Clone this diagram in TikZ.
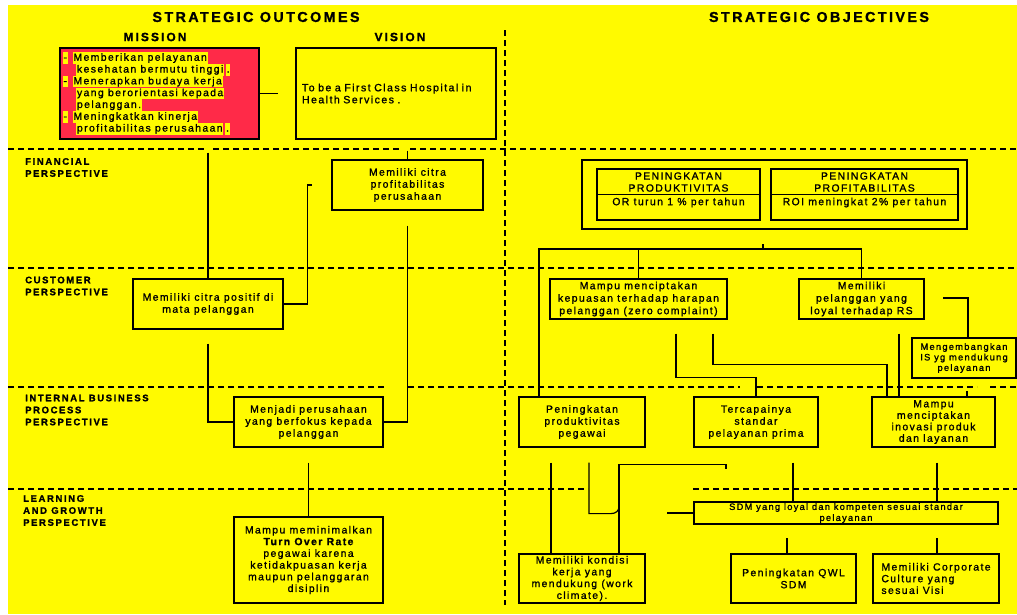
\documentclass[tikz,border=0pt]{standalone}
\usepackage{fontspec}
\setmainfont{Liberation Sans}[LetterSpace=13.5, FakeBold=1.2]
\definecolor{bgyellow}{RGB}{255,250,0}
\definecolor{mred}{RGB}{255,42,72}
\newcommand{\wide}{\addfontfeatures{LetterSpace=17}}
\begin{document}
\begin{tikzpicture}[x=1pt,y=-1pt,
  box/.style={draw, line width=1.2pt, inner sep=0pt, align=center, font=\fontsize{10.4}{12}\selectfont},
  conn/.style={line width=1.2pt},
  sep/.style={line width=1.8pt, dash pattern=on 6pt off 4pt},
  hl/.style={fill=bgyellow, inner xsep=0.8pt, inner ysep=0.5pt, text height=8pt, text depth=2.5pt, anchor=west, font=\fontsize{10.4}{12}\selectfont},
  persp/.style={anchor=west, align=left, inner sep=0pt, font=\bfseries\fontsize{9.5}{12}\selectfont\wide},
  txt/.style={inner sep=0pt, align=center, font=\fontsize{10.4}{12}\selectfont},
  bigtitle/.style={font=\bfseries\fontsize{14.3}{16}\selectfont\wide},
  subtitle/.style={font=\bfseries\fontsize{12}{14}\selectfont\wide},
]
\useasboundingbox (0,0) rectangle (1017,614);
\fill[bgyellow] (8,5) rectangle (1017,614);

% separators
\draw[sep] (8,149) -- (205,149);
\draw[sep] (213,149) -- (400,149);
\draw[sep] (410,149) -- (1017,149);
\draw[sep] (8,268) -- (1017,268);
\draw[sep] (8,387) -- (387,387);
\draw[sep] (408,387) -- (740,387);
\draw[sep] (757,387) -- (977,387);
\draw[sep] (990,387) -- (1017,387);
\draw[sep] (8,489) -- (588,489);
\draw[sep] (693,489) -- (1017,489);
\draw[sep] (505,30) -- (505,605);

% titles
\node[bigtitle] (t1) at (256,17) {STRATEGIC OUTCOMES};
\node[bigtitle] (t2) at (819,17) {STRATEGIC OBJECTIVES};
\node[subtitle] (tm) at (155,37) {MISSION};
\node[subtitle] (tv) at (400,37) {VISION};

% perspective labels
\node[persp] (lfin) at (25,167.5) {FINANCIAL\\PERSPECTIVE};
\node[persp] (lcus) at (25,286) {CUSTOMER\\PERSPECTIVE};
\node[persp] (lint) at (25,410) {INTERNAL BUSINESS\\PROCESS\\PERSPECTIVE};
\node[persp] (llea) at (23,510.5) {LEARNING\\AND GROWTH\\PERSPECTIVE};

% mission
\node[box, fill=mred, minimum width=199pt, minimum height=91pt] (mission) at (159.5,93.5) {};
\node[hl] (m1d) at (62.5,58) {-};
\node[hl] (m1) at (72.5,58) {Memberikan pelayanan};
\node[hl] (m2) at (76,69.8) {kesehatan bermutu tinggi};
\node[hl] (m2p) at ([xshift=1.5pt]m2.east) {.};
\node[hl] (m3d) at (62.5,81.6) {-};
\node[hl] (m3) at (72.5,81.6) {Menerapkan budaya kerja};
\node[hl] (m4) at (76,93.4) {yang berorientasi kepada};
\node[hl] (m5) at (76,105.2) {pelanggan.};
\node[hl] (m6d) at (62.5,117) {-};
\node[hl] (m6) at (72.5,117) {Meningkatkan kinerja};
\node[hl] (m7) at (76,128.8) {profitabilitas perusahaan};
\node[hl] (m7p) at ([xshift=1.5pt]m7.east) {.};

% vision
\node[box, minimum width=200pt, minimum height=91pt, text width=188pt, align=left, font=\fontsize{10.6}{12}\selectfont] (vision) at (396,93.5) {To be a First Class Hospital in\\Health Services .};

% left column
\node[box, minimum width=151pt, minimum height=50pt] (citraP) at (407.5,185) {Memiliki citra\\profitabilitas\\perusahaan};
\node[box, minimum width=150pt, minimum height=50pt] (citraPos) at (208,304) {Memiliki citra positif di\\mata pelanggan};
\node[box, minimum width=149pt, minimum height=50pt] (menjadi) at (308.5,422) {Menjadi perusahaan\\yang berfokus kepada\\pelanggan};
\node[box, minimum width=149pt, minimum height=86pt, font=\fontsize{10.4}{11.7}\selectfont] (turnover) at (308.5,560) {Mampu meminimalkan\\{\bfseries Turn Over Rate}\\pegawai karena\\ketidakpuasan kerja\\maupun pelanggaran\\disiplin};

% right: financial
\node[box, minimum width=385pt, minimum height=69pt] (fin) at (774.5,194.5) {};
\node[box, minimum width=163pt, minimum height=51pt] (prod) at (678.5,194.5) {};
\node[box, minimum width=187pt, minimum height=51pt] (prof) at (864.5,194.5) {};
\draw[conn] (prod.west) -- (prod.east);
\draw[conn] (prof.west) -- (prof.east);
\node[txt] (prodT) at (678.5,182) {PENINGKATAN\\PRODUKTIVITAS};
\node[txt] (prodS) at (678.5,202.5) {OR turun 1 \% per tahun};
\node[txt] (profT) at (864.5,182) {PENINGKATAN\\PROFITABILITAS};
\node[txt] (profS) at (864.5,202.5) {ROI meningkat 2\% per tahun};

% right: customer
\node[box, minimum width=177pt, minimum height=40pt, font=\fontsize{10.4}{12.5}\selectfont] (kepuasan) at (638.5,299) {Mampu menciptakan\\kepuasan terhadap harapan\\pelanggan (zero complaint)};
\node[box, minimum width=125pt, minimum height=40pt, font=\fontsize{10.4}{12.5}\selectfont] (loyal) at (861.5,299) {Memiliki\\pelanggan yang\\loyal terhadap RS};
\node[box, minimum width=104pt, minimum height=40pt, font=\fontsize{9.3}{10.5}\selectfont] (IS) at (964,358) {Mengembangkan\\IS yg mendukung\\pelayanan};

% right: internal
\node[box, minimum width=126pt, minimum height=50pt] (pegawai) at (582,422) {Peningkatan\\produktivitas\\pegawai};
\node[box, minimum width=124pt, minimum height=50pt] (tercapai) at (756,422) {Tercapainya\\standar\\pelayanan prima};
\node[box, minimum width=123pt, minimum height=50pt, font=\fontsize{10.4}{11.5}\selectfont] (inovasi) at (933.5,422) {Mampu\\menciptakan\\inovasi produk\\dan layanan};

% right: learning
\node[box, minimum width=304pt, minimum height=22pt, font=\fontsize{9.3}{11}\selectfont] (sdm) at (846,513) {SDM yang loyal dan kompeten sesuai standar\\pelayanan};
\node[box, minimum width=126pt, minimum height=49pt, font=\fontsize{10.4}{11.8}\selectfont] (kondisi) at (582,578.5) {Memiliki kondisi\\kerja yang\\mendukung (work\\climate).};
\node[box, minimum width=125pt, minimum height=49pt] (qwl) at (793.5,578.5) {Peningkatan QWL\\SDM};
\node[box, minimum width=126pt, minimum height=49pt, align=left, font=\fontsize{10.4}{11.7}\selectfont] (culture) at (936,578.5) {Memiliki Corporate\\Culture yang\\sesuai Visi};

% connectors left
\coordinate (mfree) at (278,93.5);
\draw[conn] (mission.east) -- (mfree);
\draw[conn, shorten <=13pt] (citraPos.north |- mission.south) -- (citraPos.north);
\draw[conn, shorten <=14pt] (citraPos.south) |- (menjadi.west);
\draw[conn, shorten <=11pt] (citraP.north |- vision.south) -- (citraP.north);
\draw[conn, shorten <=15pt] (citraP.south) |- (menjadi.east);
\draw[conn, shorten >=19pt] (citraPos.east) -- ++(24,0) |- (citraP.west);
\draw[conn, shorten <=15pt] (menjadi.south) -- (turnover.north);

% connectors right
\coordinate (hubtop) at (763,244);
\coordinate (hub) at (763,249);
\draw[conn] (hubtop) -- (hub);
\draw[conn] (hub) -| (kepuasan.north);
\draw[conn] (hub) -| (loyal.north);
\draw[conn] (hub) -| ([xshift=-43pt]pegawai.north);
\draw[conn, shorten <=14pt] ([xshift=37.5pt]kepuasan.south) -- ++(0,58) -| (tercapai.north);
\draw[conn, shorten <=14pt] ([xshift=74.5pt]kepuasan.south) -- ++(0,45) -| ([xshift=-46.5pt]inovasi.north);
\draw[conn, shorten <=14pt] ([xshift=37.5pt]loyal.south) -- ++(0,78);
\coordinate (isfree) at (943,298);
\draw[conn] ([xshift=4pt]IS.north) |- (isfree);
\draw[conn] ([xshift=33.5pt]inovasi.north) -- ++(0,-5);
\draw[conn, shorten <=15pt] ([xshift=-31pt]pegawai.south) -- ([xshift=-31pt]kondisi.north);
\draw[conn] ([xshift=7pt]pegawai.south) ++(0,15) -- ++(0,51) -- ++(22,0) .. controls +(5,0) and +(0,4) .. ++(8,-7);
\draw[conn] ([xshift=-30pt]tercapai.south) ++(0,21) -- ++(0,-4) -| ([xshift=37pt]kondisi.north);
\draw[conn, shorten <=15pt] ([xshift=37pt]tercapai.south) -- ++(0,55);
\draw[conn, shorten <=15pt] ([xshift=3.5pt]inovasi.south) -- ++(0,55);
\coordinate (sdmfree) at (667,513);
\draw[conn] (sdmfree) -- (sdm.west);
\draw[conn] ([xshift=-6.5pt]qwl.north) -- ++(0,-15);
\draw[conn] ([xshift=1pt]culture.north) -- ++(0,-15);
\end{tikzpicture}
\end{document}
